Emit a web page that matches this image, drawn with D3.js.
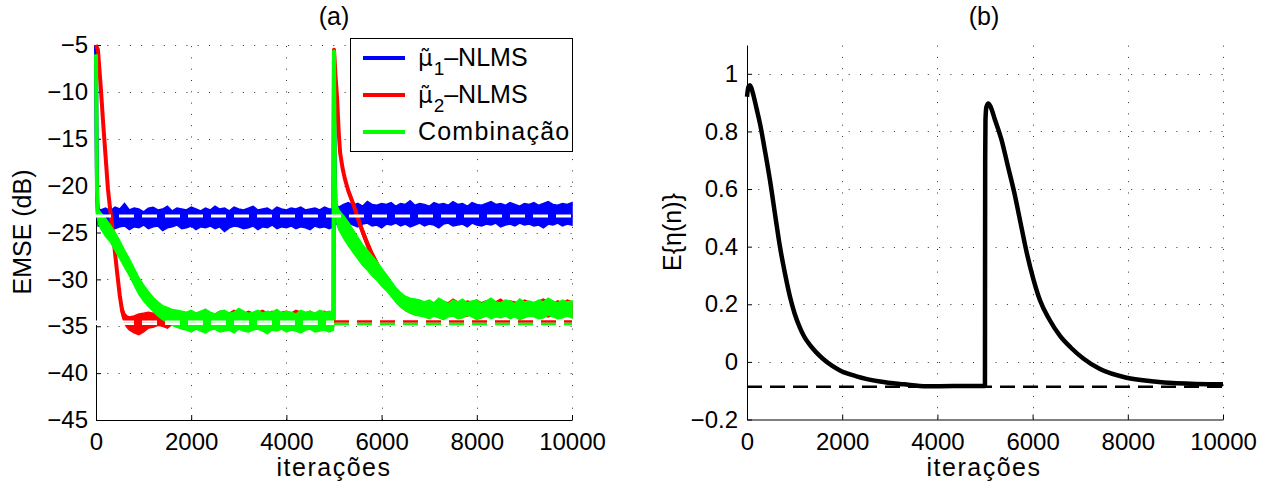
<!DOCTYPE html>
<html><head><meta charset="utf-8">
<script src="https://cdn.jsdelivr.net/npm/d3@7"></script>
<style>
body{margin:0;background:#fff}
svg{display:block}
text{font-family:"Liberation Sans",Arial,Helvetica,sans-serif;fill:#000}
</style>
</head><body>
<svg id="chart" width="1285" height="494"></svg>
<script>
// ---------- tick values ----------
const xTicks = [0, 2000, 4000, 6000, 8000, 10000];
const emseTicks = [-45, -40, -35, -30, -25, -20, -15, -10, -5];
const etaTicks = [-0.2, 0, 0.2, 0.4, 0.6, 0.8, 1];

// ---------- legend labels ----------
const legendSubs = ["1", "2", null];
const legendTexts = ["\u2013NLMS", "\u2013NLMS", "Combinação"];

// ---------- EMSE (dB): rows [iteration, upper edge, lower edge] ----------
// mu1-NLMS (blue)
const blueStart = [[0,-5,-5],[10,-12,-16],[25,-20,-23],[45,-22.4,-24.3]];
const blueIterA = d3.range(100, 5000, 100);
const blueHiA = [-22.6,-22.4,-22.7,-22.3,-22.5,-21.9,-22.6,-22.4,-22.5,-22.8,
  -22.4,-22.3,-22.6,-22.5,-22.2,-22.7,-22.4,-22.5,-22.6,-22.3,
  -22.5,-22.7,-22.4,-22.6,-22.2,-22.5,-22.4,-22.7,-22.3,-22.5,
  -22.6,-22.4,-22.2,-22.6,-22.5,-22.4,-22.7,-22.3,-22.5,-22.6,
  -22.4,-22.5,-22.3,-22.6,-22.5,-22.4,-22.6,-22.3,-22.5];
const blueLoA = [-24.3,-24.5,-24.2,-24.6,-24.4,-24.3,-24.7,-24.4,-24.5,-24.2,
  -24.6,-24.4,-24.3,-24.8,-24.5,-24.4,-24.2,-24.6,-24.5,-24.3,
  -24.7,-24.4,-24.5,-24.3,-24.6,-24.4,-24.9,-24.5,-24.3,-24.4,
  -24.6,-24.5,-24.3,-24.7,-24.4,-24.5,-24.2,-24.6,-24.4,-24.5,
  -24.3,-24.6,-24.4,-24.5,-24.7,-24.3,-24.5,-24.4,-24.6];
const blueJump = [[4990,-22.5,-24.4],[5000,-6,-6],[5012,-15,-18.5],[5028,-20.6,-23.3],[5050,-22.0,-24.1]];
const blueIterB = d3.range(5100, 10001, 100);
const blueHiB = [-22.3,-22.0,-21.8,-22.1,-21.9,-22.2,-21.7,-22.0,-22.1,-21.9,
  -22.0,-21.8,-22.2,-21.9,-22.0,-21.6,-22.1,-21.9,-22.0,-22.2,
  -21.8,-22.0,-21.9,-22.1,-21.7,-22.0,-21.9,-22.2,-21.8,-22.0,
  -22.1,-21.9,-21.7,-22.0,-21.9,-22.1,-21.8,-22.0,-22.2,-21.9,
  -22.0,-21.8,-22.1,-21.9,-21.7,-22.0,-22.1,-21.9,-22.0,-21.8];
const blueLoB = [-24.1,-24.3,-24.0,-24.2,-24.4,-24.1,-24.0,-24.3,-24.2,-24.5,
  -24.1,-24.2,-24.0,-24.3,-24.1,-24.4,-24.2,-24.0,-24.3,-24.1,
  -24.2,-24.5,-24.1,-24.0,-24.3,-24.2,-24.1,-24.4,-24.0,-24.2,
  -24.3,-24.1,-24.2,-24.0,-24.4,-24.2,-24.1,-24.3,-24.0,-24.2,
  -24.1,-24.3,-24.2,-24.5,-24.1,-24.2,-24.0,-24.3,-24.1,-24.2];

// mu2-NLMS (red)
const redStart = [[0,-5,-5],[40,-5.5,-5.5],[100,-9.5,-9.5],[150,-13.3,-13.3],[200,-16.8,-16.8],
  [250,-20.2,-20.4],[300,-22.5,-22.8],[350,-24.5,-24.9],[400,-26.9,-27.5],[450,-29.2,-29.9],
  [500,-31.3,-32.2],[550,-32.9,-33.9],[600,-33.6,-34.7],[650,-33.9,-35.1],[700,-34.0,-35.4],
  [800,-33.9,-35.7],[900,-33.7,-35.9],[1000,-33.6,-35.6],[1100,-33.5,-35.2]];
const redIterA = d3.range(1200, 5000, 100);
const redHiA = [-33.6,-33.4,-33.7,-33.5,-33.3,-33.6,-33.5,-33.8,-33.4,-33.6,
  -33.5,-33.2,-33.6,-33.7,-33.4,-33.5,-33.6,-33.3,-33.5,-33.7,
  -33.4,-33.6,-33.5,-33.3,-33.6,-33.4,-33.7,-33.5,-33.4,-33.6,
  -33.3,-33.5,-33.6,-33.4,-33.7,-33.5,-33.4,-33.6];
const redLoA = [-35.1,-34.9,-35.0,-35.2,-34.8,-35.0,-35.1,-34.9,-35.0,-35.2,
  -34.9,-35.0,-35.1,-34.8,-35.0,-35.2,-34.9,-35.0,-35.1,-34.9,
  -35.0,-35.2,-34.8,-35.0,-35.1,-34.9,-35.0,-35.2,-34.9,-35.0,
  -35.1,-34.8,-35.0,-35.1,-34.9,-35.0,-35.2,-34.9];
const redJump = [[4990,-33.5,-35.0],[5000,-5.5,-5.5],[5030,-8.2,-8.2],[5063,-10.5,-10.5],
  [5100,-14.3,-14.5],[5130,-16.4,-16.7],[5180,-18.0,-18.3],[5230,-19.1,-19.5],[5300,-20.3,-20.8],
  [5400,-21.6,-22.2],[5500,-23.1,-23.8],[5600,-24.5,-25.3],[5700,-25.8,-26.6],[5800,-27.0,-27.8],
  [5900,-28.0,-28.8],[6000,-29.0,-29.8],[6100,-29.9,-30.8],[6200,-30.8,-31.6],[6300,-31.5,-32.4],
  [6400,-32.0,-32.9],[6500,-32.4,-33.3],[6600,-32.5,-33.6],[6700,-32.6,-33.7],[6800,-32.6,-33.8]];
const redIterB = d3.range(6900, 10001, 100);
const redHiB = [-32.5,-32.3,-32.6,-32.2,-32.4,-32.5,-32.1,-32.4,-32.6,-32.3,
  -32.4,-32.2,-32.5,-32.3,-32.6,-32.4,-32.1,-32.5,-32.3,-32.4,
  -32.6,-32.2,-32.4,-32.5,-32.3,-32.1,-32.4,-32.6,-32.3,-32.5,
  -32.2,-32.4];
const redLoB = [-33.8,-33.9,-33.7,-34.0,-33.8,-33.9,-33.7,-33.8,-34.0,-33.9,
  -33.7,-33.8,-33.9,-33.8,-34.0,-33.7,-33.8,-33.9,-33.8,-33.7,
  -33.9,-34.0,-33.8,-33.7,-33.9,-33.8,-34.0,-33.8,-33.7,-33.9,
  -33.8,-33.9];

// combination (green)
const greenStart = [[0,-6,-6],[8,-12,-12],[20,-20,-20.5],[35,-22.3,-23.6],[60,-22.6,-24.2],
  [100,-22.9,-24.6],[200,-23.5,-25.4],[300,-24.2,-26.0],[400,-25.0,-26.9],[500,-25.9,-27.8],
  [600,-26.9,-28.7],[700,-27.8,-29.6],[800,-28.8,-30.6],[900,-29.8,-31.6],[1000,-30.6,-32.3],
  [1100,-31.3,-32.9],[1200,-31.9,-33.4],[1300,-32.4,-33.9],[1400,-32.8,-34.3],[1500,-33.0,-34.6],
  [1600,-33.2,-34.9],[1700,-33.3,-35.1],[1800,-33.4,-35.3]];
const greenIterA = d3.range(1900, 5000, 100);
const greenHiA = [-33.5,-33.3,-33.6,-33.4,-33.2,-33.5,-33.7,-33.4,-33.3,-33.6,
  -33.5,-33.1,-33.4,-33.6,-33.5,-33.3,-33.6,-33.4,-33.5,-33.2,
  -33.6,-33.4,-33.5,-33.7,-33.3,-33.5,-33.4,-33.6,-33.3,-33.5,
  -33.4];
const greenLoA = [-35.4,-35.6,-35.3,-35.5,-35.7,-35.4,-35.3,-35.6,-35.5,-35.4,
  -35.7,-35.3,-35.5,-35.6,-35.4,-35.3,-35.5,-35.8,-35.4,-35.5,
  -35.3,-35.6,-35.4,-35.5,-35.7,-35.4,-35.3,-35.6,-35.5,-35.4,
  -35.6];
const greenJump = [[4990,-33.5,-35.4],[5000,-5.7,-5.7],[5010,-14,-14],[5020,-19.5,-20.5],
  [5040,-21.6,-23.4],[5070,-22.2,-24.2],[5100,-22.6,-24.7],[5200,-23.2,-25.6],[5300,-23.9,-26.4],
  [5400,-24.7,-27.1],[5500,-25.5,-27.8],[5600,-26.3,-28.5],[5700,-26.9,-29.0],[5800,-27.5,-29.6],
  [5900,-28.1,-30.1],[6000,-28.8,-30.7],[6100,-29.5,-31.2],[6200,-30.2,-31.8],[6300,-30.9,-32.4],
  [6400,-31.4,-32.9],[6500,-31.8,-33.3],[6600,-32.0,-33.6],[6700,-32.1,-33.8],[6800,-32.2,-33.9]];
const greenIterB = d3.range(6900, 10001, 100);
const greenHiB = [-32.4,-32.2,-32.5,-32.0,-32.3,-32.6,-32.2,-32.4,-32.1,-32.5,
  -32.3,-32.2,-32.6,-32.3,-32.0,-32.4,-32.5,-32.2,-32.3,-32.6,
  -32.1,-32.4,-32.3,-32.5,-32.2,-32.4,-32.0,-32.3,-32.5,-32.2,
  -32.4,-32.3];
const greenLoB = [-34.0,-34.2,-33.9,-34.1,-34.3,-34.0,-33.9,-34.2,-34.1,-33.8,
  -34.0,-34.3,-34.1,-33.9,-34.2,-34.0,-34.1,-33.9,-34.2,-34.0,
  -34.3,-34.1,-33.9,-34.0,-34.2,-34.1,-33.8,-34.0,-34.2,-34.1,
  -33.9,-34.1];

// theoretical steady-state levels (dB)
const theoryMu1 = -23.25;
const theoryMu2 = -34.5;
const theoryComb = -34.75;

// ---------- E{eta(n)} ----------
const etaIter = [0,30,63,120,200,273,380,483,600,693,800,903,1000,1113,1200,1324,1450,1600,1800,1954,2300,2794,3300,3775,4335,4999,
  5001,5004,5010,5030,5070,5120,5200,5343,5480,5616,5750,5889,6020,6155,6350,6576,6800,7065,7416,7977,8500,9027,10000];
const etaVal = [0.92,0.955,0.96,0.935,0.88,0.827,0.73,0.63,0.50,0.399,0.305,0.226,0.168,0.118,0.088,0.058,0.034,0.01,-0.015,-0.03,-0.05,-0.068,-0.078,-0.085,-0.084,-0.084,
  0.3,0.7,0.84,0.885,0.897,0.885,0.845,0.773,0.68,0.587,0.48,0.37,0.285,0.214,0.148,0.09,0.05,0.012,-0.025,-0.055,-0.067,-0.074,-0.078];
const etaTheory = -0.086;

// ---------- helpers ----------
function buildRows(start, iterA, hiA, loA, jump, iterB, hiB, loB) {
  const a = iterA.map((n, i) => [n, hiA[i], loA[i]]).filter(r => r[1] !== undefined && r[2] !== undefined);
  const b = iterB.map((n, i) => [n, hiB[i], loB[i]]).filter(r => r[1] !== undefined && r[2] !== undefined);
  return [...start, ...a, ...jump, ...b];
}
const blueRows = buildRows(blueStart, blueIterA, blueHiA, blueLoA, blueJump, blueIterB, blueHiB, blueLoB);
const redRows = buildRows(redStart, redIterA, redHiA, redLoA, redJump, redIterB, redHiB, redLoB);
const greenRows = buildRows(greenStart, greenIterA, greenHiA, greenLoA, greenJump, greenIterB, greenHiB, greenLoB);

const svg = d3.select("#chart");
const FONT = 24;
const LABEL_FONT = 25;
const GRID_DASH = "1,10.3";

function drawFrame(xs, ys, yTickVals, yFmt, padY) {
  const g = svg.append("g");
  const [x0, x1] = xs.range();
  const [yb, yt] = ys.range();
  g.append("g").selectAll("line").data(xTicks.filter(d => d > 0)).join("line")
    .attr("x1", d => Math.round(xs(d)) + 0.5).attr("x2", d => Math.round(xs(d)) + 0.5)
    .attr("y1", yb).attr("y2", yt)
    .attr("stroke", "#333").attr("stroke-width", 1).attr("stroke-dasharray", GRID_DASH);
  g.append("g").selectAll("line").data(yTickVals.filter((d, i) => i > 0)).join("line")
    .attr("x1", x0).attr("x2", x1)
    .attr("y1", d => Math.round(ys(d)) + 0.5).attr("y2", d => Math.round(ys(d)) + 0.5)
    .attr("stroke", "#333").attr("stroke-width", 1).attr("stroke-dasharray", GRID_DASH);
  const ax = g.append("g").attr("transform", `translate(0,${yb})`)
    .call(d3.axisBottom(xs).tickValues(xTicks).tickFormat(d3.format("d")).tickSize(-5).tickSizeOuter(0).tickPadding(13));
  const ay = g.append("g").attr("transform", `translate(${x0},0)`)
    .call(d3.axisLeft(ys).tickValues(yTickVals).tickFormat(yFmt).tickSize(-5).tickSizeOuter(0).tickPadding(padY));
  [ax, ay].forEach(a => {
    a.attr("font-size", FONT).attr("font-family", '"Liberation Sans", Arial, sans-serif');
    a.selectAll("text").attr("fill", "#000");
    a.selectAll("line, path").attr("stroke", "#000");
  });
  return g;
}

// ---------- left panel ----------
const xL = d3.scaleLinear().domain([0, 10000]).range([96, 572]);
const yL = d3.scaleLinear().domain([-45, -5]).range([420, 45]);
drawFrame(xL, yL, emseTicks, d => "\u2212" + Math.abs(d), 8);

const emseArea = d3.area().x(d => xL(d[0])).y0(d => yL(d[2])).y1(d => yL(d[1]));
const emseMid = d3.line().x(d => xL(d[0])).y(d => yL((d[1] + d[2]) / 2));
const curvesL = svg.append("g");
[[blueRows, "#0000ff"], [redRows, "#ff0000"], [greenRows, "#00ff00"]].forEach(([rows, c]) => {
  curvesL.append("path").datum(rows).attr("d", emseArea).attr("fill", c).attr("stroke", c).attr("stroke-width", 1.5);
  curvesL.append("path").datum(rows).attr("d", emseMid).attr("fill", "none").attr("stroke", c)
    .attr("stroke-width", 4).attr("stroke-linejoin", "round");
});

const theoryLines = [
  {v: theoryMu1, a: 0, b: 10000, c: "#ffffff", w: 3},
  {v: theoryMu2, a: 0, b: 5000, c: "#ffffff", w: 2.2},
  {v: theoryComb, a: 0, b: 5000, c: "#ffffff", w: 2.2},
  {v: theoryMu2, a: 5000, b: 10000, c: "#ff0000", w: 2.5},
  {v: theoryComb, a: 5000, b: 10000, c: "#00ff00", w: 2.5}
];
svg.append("g").selectAll("line").data(theoryLines).join("line")
  .attr("x1", d => xL(d.a)).attr("x2", d => xL(d.b))
  .attr("y1", d => yL(d.v)).attr("y2", d => yL(d.v))
  .attr("stroke", d => d.c).attr("stroke-width", d => d.w).attr("stroke-dasharray", "15,8");

svg.append("text").attr("x", 334).attr("y", 25).attr("text-anchor", "middle").attr("font-size", LABEL_FONT).text("(a)");
svg.append("text").attr("x", 334).attr("y", 476).attr("text-anchor", "middle").attr("font-size", LABEL_FONT)
  .attr("letter-spacing", 1.5).text("iterações");
svg.append("text").attr("transform", "translate(22,232) rotate(-90)").attr("text-anchor", "middle")
  .attr("dominant-baseline", "central").attr("font-size", LABEL_FONT).text("EMSE (dB)");

// legend
const lg = svg.append("g");
lg.append("rect").attr("x", 350.5).attr("y", 38.5).attr("width", 222).attr("height", 113)
  .attr("fill", "#fff").attr("stroke", "#000").attr("stroke-width", 1);
const legendColors = ["#0000ff", "#ff0000", "#00ff00"];
legendColors.forEach((c, i) => {
  const yy = 58 + i * 37;
  lg.append("line").attr("x1", 363).attr("x2", 405).attr("y1", yy).attr("y2", yy)
    .attr("stroke", c).attr("stroke-width", 4);
  const t = lg.append("text").attr("x", 418).attr("y", yy + 8).attr("font-size", 25);
  if (legendSubs[i]) {
    t.append("tspan").attr("font-family", '"DejaVu Sans", sans-serif').attr("font-size", 23).text("\u03bc\u0303");
    t.append("tspan").attr("dx", 1).attr("dy", 9).attr("font-size", 19).text(legendSubs[i]);
    t.append("tspan").attr("dy", -9).text(legendTexts[i]);
  } else {
    t.attr("letter-spacing", 1.2).text(legendTexts[i]);
  }
});

// ---------- right panel ----------
const xR = d3.scaleLinear().domain([0, 10000]).range([747, 1223]);
const yR = d3.scaleLinear().domain([-0.2, 1.1]).range([419.5, 45]);
drawFrame(xR, yR, etaTicks, d => (d < 0 ? "\u2212" : "") + Math.abs(d), 9);

svg.append("line").attr("x1", xR(0)).attr("x2", xR(10000)).attr("y1", yR(etaTheory)).attr("y2", yR(etaTheory))
  .attr("stroke", "#000").attr("stroke-width", 2.5).attr("stroke-dasharray", "15,8");
const etaLine = d3.line().x((d, i) => xR(etaIter[i])).y(d => yR(d)).curve(d3.curveMonotoneX);
svg.append("path").datum(etaVal).attr("d", etaLine).attr("fill", "none").attr("stroke", "#000")
  .attr("stroke-width", 4.5).attr("stroke-linejoin", "round");

svg.append("text").attr("x", 984).attr("y", 25).attr("text-anchor", "middle").attr("font-size", LABEL_FONT).text("(b)");
svg.append("text").attr("x", 984).attr("y", 476).attr("text-anchor", "middle").attr("font-size", LABEL_FONT)
  .attr("letter-spacing", 1.5).text("iterações");
svg.append("text").attr("transform", "translate(672,232) rotate(-90)").attr("text-anchor", "middle")
  .attr("dominant-baseline", "central").attr("font-size", LABEL_FONT).text("E{\u03b7(n)}");
</script>
</body></html>
